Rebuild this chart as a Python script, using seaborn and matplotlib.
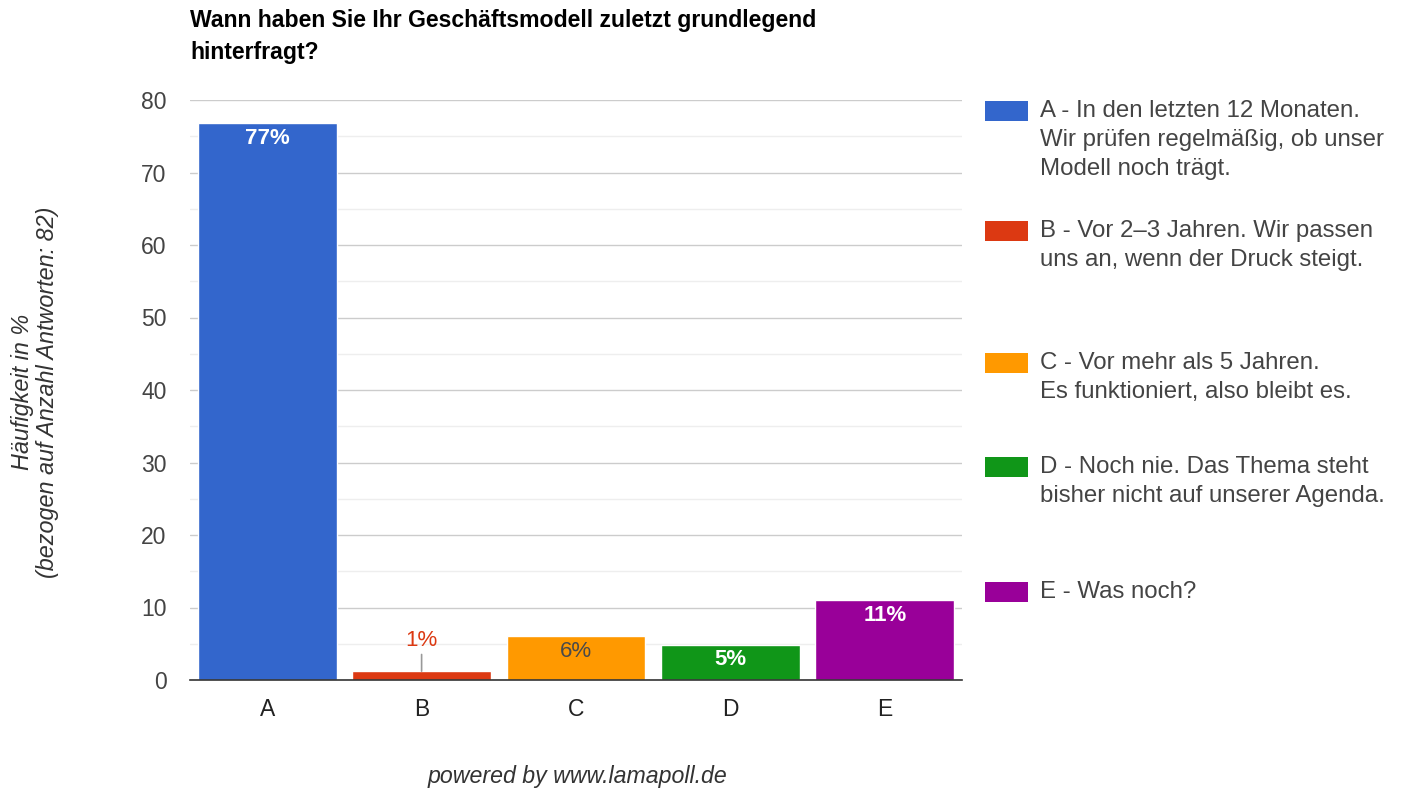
import matplotlib
matplotlib.use("Agg")
import matplotlib.pyplot as plt
import seaborn as sns
import pandas as pd
from matplotlib.patches import Rectangle

# ---- data ----
categories = ["A", "B", "C", "D", "E"]
values = [76.83, 1.22, 6.10, 4.88, 10.98]
value_labels = ["77%", "1%", "6%", "5%", "11%"]
colors = ["#3366CC", "#DC3912", "#FF9900", "#109618", "#990099"]
label_colors = ["white", "#DC3912", "#4a4a4a", "white", "white"]
label_bold = [True, False, False, True, True]
legend_texts = [
    ["A - In den letzten 12 Monaten.", "Wir prüfen regelmäßig, ob unser", "Modell noch trägt."],
    ["B - Vor 2–3 Jahren. Wir passen", "uns an, wenn der Druck steigt."],
    ["C - Vor mehr als 5 Jahren.", "Es funktioniert, also bleibt es."],
    ["D - Noch nie. Das Thema steht", "bisher nicht auf unserer Agenda."],
    ["E - Was noch?"],
]
title_lines = ["Wann haben Sie Ihr Geschäftsmodell zuletzt grundlegend", "hinterfragt?"]
ylabel = "Häufigkeit in %\n(bezogen auf Anzahl Antworten: 82)"
footer = "powered by www.lamapoll.de"

sns.set_theme(style="white")
plt.rcParams["font.family"] = ["Liberation Sans", "DejaVu Sans"]

W, H = 1403, 788
fig = plt.figure(figsize=(W / 100, H / 100), dpi=100)
ax = fig.add_axes([190 / W, 1 - 680 / H, (962 - 190) / W, (680 - 100) / H])

df = pd.DataFrame({"cat": categories, "val": values})
sns.barplot(data=df, x="cat", y="val", hue="cat", palette=colors, width=0.9,
            legend=False, ax=ax, saturation=1, dodge=False, zorder=3)

ax.set_xlim(-0.5, 4.5)
ax.set_ylim(0, 80)
ax.set_yticks(range(0, 81, 10))
ax.set_yticks(range(5, 80, 10), minor=True)
ax.grid(axis="y", which="major", color="#cccccc", lw=1.0, zorder=0)
ax.grid(axis="y", which="minor", color="#eeeeee", lw=1.0, zorder=0)
ax.set_axisbelow(True)
for s in ["top", "right", "left"]:
    ax.spines[s].set_visible(False)
ax.spines["bottom"].set_color("#333333")
ax.spines["bottom"].set_linewidth(1.2)
ax.spines["bottom"].set_zorder(5)
ax.tick_params(axis="y", which="both", length=0, pad=17, labelsize=16.5, labelcolor="#444444")
ax.tick_params(axis="x", length=0, pad=13, labelsize=16.5, labelcolor="#222222")
ax.set_xlabel("")
ax.set_ylabel("")

# value labels
for i, (v, lab) in enumerate(zip(values, value_labels)):
    weight = "bold" if label_bold[i] else "normal"
    if v > 3:
        ax.annotate(lab, (i, v), xytext=(0, -11), textcoords="offset points",
                    ha="center", va="center", fontsize=16, fontweight=weight,
                    color=label_colors[i], zorder=6)
    else:
        ax.annotate("", xy=(i, v), xytext=(0, 12), textcoords="offset points",
                    arrowprops=dict(arrowstyle="-", color="#999999", lw=1.2,
                                    shrinkA=0, shrinkB=0))
        ax.annotate(lab, (i, v), xytext=(0, 22), textcoords="offset points",
                    ha="center", va="center", fontsize=16, fontweight=weight,
                    color=label_colors[i], zorder=6)

# title
for k, line in enumerate(title_lines):
    fig.text(190 / W, 1 - (21 + 32 * k) / H, line, ha="left", va="center",
             fontsize=16.6, fontweight="bold", color="#000000")

# y label
fig.text(35 / W, 1 - 392 / H, ylabel, rotation=90, ha="center", va="center",
         fontsize=16.8, style="italic", color="#333333", linespacing=1.15)

# legend
legend_y = [111, 231, 363, 467, 592]
for col, lines, y0 in zip(colors, legend_texts, legend_y):
    fig.patches.append(Rectangle((985 / W, 1 - (y0 + 10) / H), 43 / W, 20 / H,
                                 transform=fig.transFigure, facecolor=col,
                                 edgecolor="none"))
    for k, line in enumerate(lines):
        fig.text(1040 / W, 1 - (y0 + 29 * k) / H, line, ha="left", va="center",
                 fontsize=17.3, color="#444444")

# footer
fig.text(577 / W, 1 - 776 / H, footer, ha="center", va="center", fontsize=16.7,
         style="italic", color="#333333")

fig.savefig("out.png", dpi=100)
